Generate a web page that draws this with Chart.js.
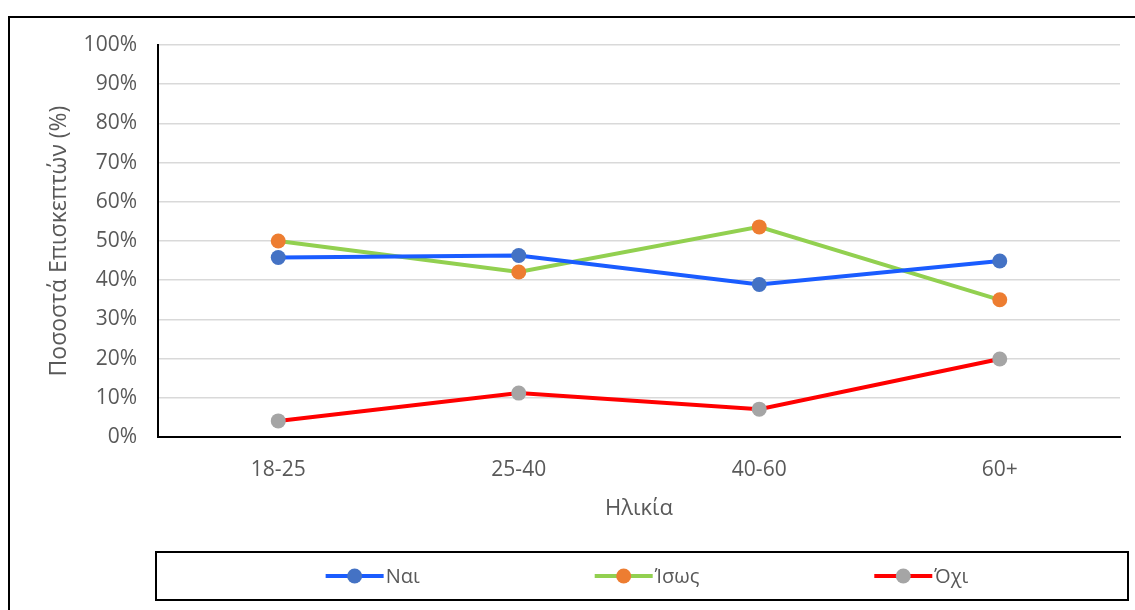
<!DOCTYPE html>
<html>
<head>
<meta charset="utf-8">
<title>Ηλικία</title>
<script src="https://cdn.jsdelivr.net/npm/chart.js@4.4.1/dist/chart.umd.min.js"></script>
<style>
  html, body { margin: 0; padding: 0; background: #fff; }
  canvas { display: block; }
</style>
</head>
<body>
<canvas id="chart" width="1135" height="610"></canvas>
<script>
// δεδομένα
const ageGroups = ["18-25", "25-40", "40-60", "60+"];
const seriesNames = ["Ναι", "Ίσως", "Όχι"];
const yesValues = [45.8, 46.3, 38.9, 44.9];
const maybeValues = [50.0, 42.1, 53.6, 35.0];
const noValues = [4.1, 11.2, 7.1, 19.9];
const yTicks = [0, 10, 20, 30, 40, 50, 60, 70, 80, 90, 100];

const lineColors = ["#1a5cff", "#92d050", "#ff0000"];
const markerColors = ["#4472c4", "#ed7d31", "#a5a5a5"];
const textColor = "#595959";
const fontFamily = "'Open Sans', 'Noto Sans', sans-serif";

function makeDataset(i, values) {
  return {
    label: seriesNames[i],
    data: values,
    borderColor: lineColors[i],
    backgroundColor: markerColors[i],
    borderWidth: 4,
    tension: 0,
    pointRadius: 7.5,
    pointHoverRadius: 7.5,
    pointBackgroundColor: markerColors[i],
    pointBorderColor: markerColors[i],
    pointBorderWidth: 0
  };
}

// πλαίσιο γύρω από το γράφημα
const frame = {
  id: "frame",
  beforeDraw(chart) {
    const ctx = chart.ctx;
    ctx.save();
    ctx.fillStyle = "#fff";
    ctx.fillRect(0, 0, chart.width, chart.height);
    ctx.strokeStyle = "#000";
    ctx.lineWidth = 2;
    ctx.strokeRect(9, 17, 1300, 800);
    ctx.restore();
  }
};

// υπόμνημα σε κουτί στο κάτω μέρος
const boxLegend = {
  id: "boxLegend",
  afterDraw(chart) {
    const ctx = chart.ctx;
    const box = { x: 156, y: 552, w: 972, h: 48 };
    ctx.save();
    ctx.strokeStyle = "#000";
    ctx.lineWidth = 2;
    ctx.strokeRect(box.x, box.y, box.w, box.h);

    ctx.font = "20px " + fontFamily;
    const iconW = 58, textGap = 2, itemGap = 175;
    const items = chart.data.datasets.map(ds => ({
      ds, tw: ctx.measureText(ds.label).width
    }));
    let total = 0;
    items.forEach((it, i) => { total += iconW + textGap + it.tw + (i ? itemGap : 0); });
    let x = box.x + box.w / 2 - total / 2 + 5;
    const cy = box.y + box.h / 2;
    items.forEach(it => {
      ctx.strokeStyle = it.ds.borderColor;
      ctx.lineWidth = 4;
      ctx.beginPath();
      ctx.moveTo(x, cy);
      ctx.lineTo(x + iconW, cy);
      ctx.stroke();
      ctx.fillStyle = it.ds.pointBackgroundColor;
      ctx.beginPath();
      ctx.arc(x + iconW / 2, cy, 7.5, 0, Math.PI * 2);
      ctx.fill();
      ctx.fillStyle = textColor;
      ctx.textBaseline = "middle";
      ctx.textAlign = "left";
      ctx.fillText(it.ds.label, x + iconW + textGap, cy + 1);
      x += iconW + textGap + it.tw + itemGap;
    });
    ctx.restore();
  }
};

new Chart(document.getElementById("chart"), {
  type: "line",
  data: {
    labels: ageGroups,
    datasets: [
      makeDataset(0, yesValues),
      makeDataset(1, maybeValues),
      makeDataset(2, noValues)
    ]
  },
  options: {
    responsive: false,
    animation: false,
    layout: { padding: { left: 38, right: 15, top: 45, bottom: 78 } },
    plugins: {
      legend: { display: false },
      tooltip: { enabled: false }
    },
    scales: {
      x: {
        offset: true,
        grid: { display: false, drawTicks: false },
        border: { display: true, color: "#000", width: 2 },
        ticks: { color: textColor, padding: 20, font: { family: fontFamily, size: 21 } },
        title: {
          display: true,
          text: "Ηλικία",
          color: textColor,
          font: { family: fontFamily, size: 22 },
          padding: { top: 0, bottom: 10 }
        },
        afterFit(scale) { scale.height = 95; }
      },
      y: {
        min: 0,
        max: 100,
        afterBuildTicks(scale) { scale.ticks = yTicks.map(v => ({ value: v })); },
        grid: { color: "#d9d9d9", lineWidth: 1.5, drawTicks: false },
        border: { display: true, color: "#000", width: 2 },
        ticks: {
          color: textColor,
          padding: 21,
          font: { family: fontFamily, size: 21 },
          callback: v => v + "%"
        },
        title: {
          display: true,
          text: "Ποσοστά Επισκεπτών (%)",
          color: textColor,
          font: { family: fontFamily, size: 23 },
          padding: { top: 8, bottom: 0 }
        },
        afterFit(scale) { scale.width = 120; }
      }
    }
  },
  plugins: [frame, boxLegend]
});
</script>
</body>
</html>
